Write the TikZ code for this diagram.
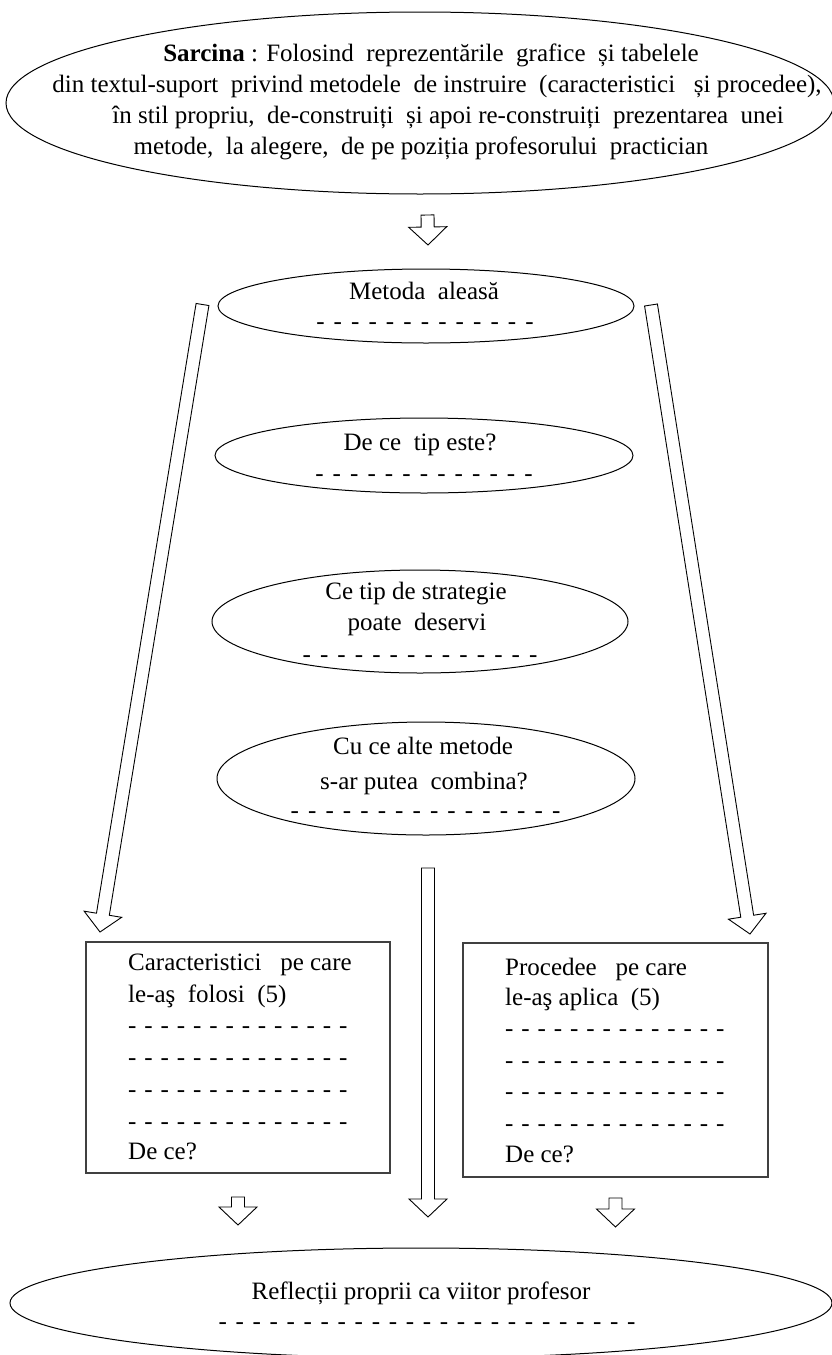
\documentclass[tikz,border=0pt]{standalone}
\usepackage{fontspec}
\setmainfont{Liberation Serif}
\usetikzlibrary{shapes.geometric,calc}
\tikzset{
  oval/.style={draw, ellipse, line width=1pt, inner sep=0pt},
  txt/.style={inner sep=0pt, font=\fontsize{25}{31}\selectfont},
  boxst/.style={draw=black!75, line width=1.4pt, inner sep=0pt, rectangle},
  barrow/.style={draw, line width=0.9pt, fill=white, line join=miter},
}
\newcommand\dashrow[2]{-\foreach \k in {2,...,#1}{\hspace{#2}-}}
\newcommand\blockarrow[3]{%
  \coordinate (#1h) at ($(#3)!18pt!(#2)$);
  \draw[barrow] ($(#2)!6.5pt!90:(#3)$) -- ($(#1h)!6.5pt!90:(#3)$) -- ($(#1h)!19pt!90:(#3)$) -- (#3)
    -- ($(#1h)!19pt!-90:(#3)$) -- ($(#1h)!6.5pt!-90:(#3)$) -- ($(#2)!6.5pt!-90:(#3)$) -- cycle;}
\begin{document}
\begin{tikzpicture}[x=1pt, y=-1pt]
\useasboundingbox (0,0) rectangle (832,1355);
\clip (0,0) rectangle (832,1355);
\fill[white] (0,0) rectangle (832,1355);

% ellipses
\node[oval, minimum width=828pt, minimum height=182pt] (e0) at (420,103) {};
\node[oval, minimum width=416pt, minimum height=74pt] (e1) at (426,306) {};
\node[oval, minimum width=418pt, minimum height=75pt] (e2) at (424,455.5) {};
\node[oval, minimum width=416pt, minimum height=103pt] (e3) at (420,621.5) {};
\node[oval, minimum width=418pt, minimum height=113pt] (e4) at (426,778.5) {};
\node[oval, minimum width=822pt, minimum height=110pt] (e5) at (421,1303) {};

% boxes
\node[boxst, minimum width=304pt, minimum height=231pt] (b1) at (238,1057.5) {};
\node[boxst, minimum width=305pt, minimum height=234pt] (b2) at (615.5,1060) {};

% top ellipse text
\node[txt, anchor=base] (t1) at (431,61) {\textbf{Sarcina} : Folosind~ reprezentările~ grafice~ și tabelele};
\node[txt, anchor=base] (t2) at (437,92) {din textul-suport~ privind metodele~ de instruire~ (caracteristici~~ și procedee),};
\node[txt, anchor=base] (t3) at (448,123) {în stil propriu,~ de-construiți~ și apoi re-construiți~ prezentarea~ unei};
\node[txt, anchor=base] (t4) at (421,154) {metode,~ la alegere,~ de pe poziția profesorului~ practician};

% Metoda
\node[txt, anchor=base] (m1) at (424,299) {Metoda~ aleasă};
\node[txt, anchor=base] (m2) at (425,329) {\dashrow{13}{9.1pt}};
% De ce tip
\node[txt, anchor=base] (d1) at (420,450) {De ce~ tip este?};
\node[txt, anchor=base] (d2) at (424,481) {\dashrow{13}{9.1pt}};
% Ce tip de strategie
\node[txt, anchor=base] (s1) at (416,599) {Ce tip de strategie};
\node[txt, anchor=base] (s2) at (417,630) {poate~ deservi};
\node[txt, anchor=base] (s3) at (420,662) {\dashrow{14}{9.1pt}};
% Cu ce alte metode
\node[txt, anchor=base] (c1) at (423,754) {Cu ce alte metode};
\node[txt, anchor=base] (c2) at (424,789) {s-ar putea~ combina?};
\node[txt, anchor=base] (c3) at (425.5,818) {\dashrow{16}{9.1pt}};

% left box text
\node[txt, anchor=base west] (l1) at (128,970) {Caracteristici~~ pe care};
\node[txt, anchor=base west] (l2) at (128,1002) {le-aş~ folosi~ (5)};
\node[txt, anchor=base west] (l3) at (128,1033) {\dashrow{14}{7.9pt}};
\node[txt, anchor=base west] (l4) at (128,1065) {\dashrow{14}{7.9pt}};
\node[txt, anchor=base west] (l5) at (128,1097) {\dashrow{14}{7.9pt}};
\node[txt, anchor=base west] (l6) at (128,1129) {\dashrow{14}{7.9pt}};
\node[txt, anchor=base west] (l7) at (128,1159) {De ce?};

% right box text
\node[txt, anchor=base west] (r1) at (505,975) {Procedee~~ pe care};
\node[txt, anchor=base west] (r2) at (505,1005) {le-aş aplica~ (5)};
\node[txt, anchor=base west] (r3) at (505,1036) {\dashrow{14}{7.9pt}};
\node[txt, anchor=base west] (r4) at (505,1068) {\dashrow{14}{7.9pt}};
\node[txt, anchor=base west] (r5) at (505,1099) {\dashrow{14}{7.9pt}};
\node[txt, anchor=base west] (r6) at (505,1131) {\dashrow{14}{7.9pt}};
\node[txt, anchor=base west] (r7) at (505,1162) {De ce?};

% bottom text
\node[txt, anchor=base] (f1) at (421,1299) {Reflecții proprii ca viitor profesor};
\node[txt, anchor=base] (f2) at (427,1329) {\dashrow{25}{8.7pt}};

% arrow end points
\coordinate (a0s) at (427.5,215);  \coordinate (a0e) at (428,245);
\coordinate (aLs) at (202.5,304.5); \coordinate (aLe) at (100,932);
\coordinate (aRs) at (651,305);    \coordinate (aRe) at (750,934);
\coordinate (aMs) at (428,868);    \coordinate (aMe) at (428,1217);
\coordinate (a1s) at (238,1197);   \coordinate (a1e) at (238,1225);
\coordinate (a2s) at (615.5,1198); \coordinate (a2e) at (615.5,1227);

\blockarrow{a0}{a0s}{a0e}
\blockarrow{aL}{aLs}{aLe}
\blockarrow{aR}{aRs}{aRe}
\blockarrow{aM}{aMs}{aMe}
\blockarrow{a1}{a1s}{a1e}
\blockarrow{a2}{a2s}{a2e}
\end{tikzpicture}
\end{document}
